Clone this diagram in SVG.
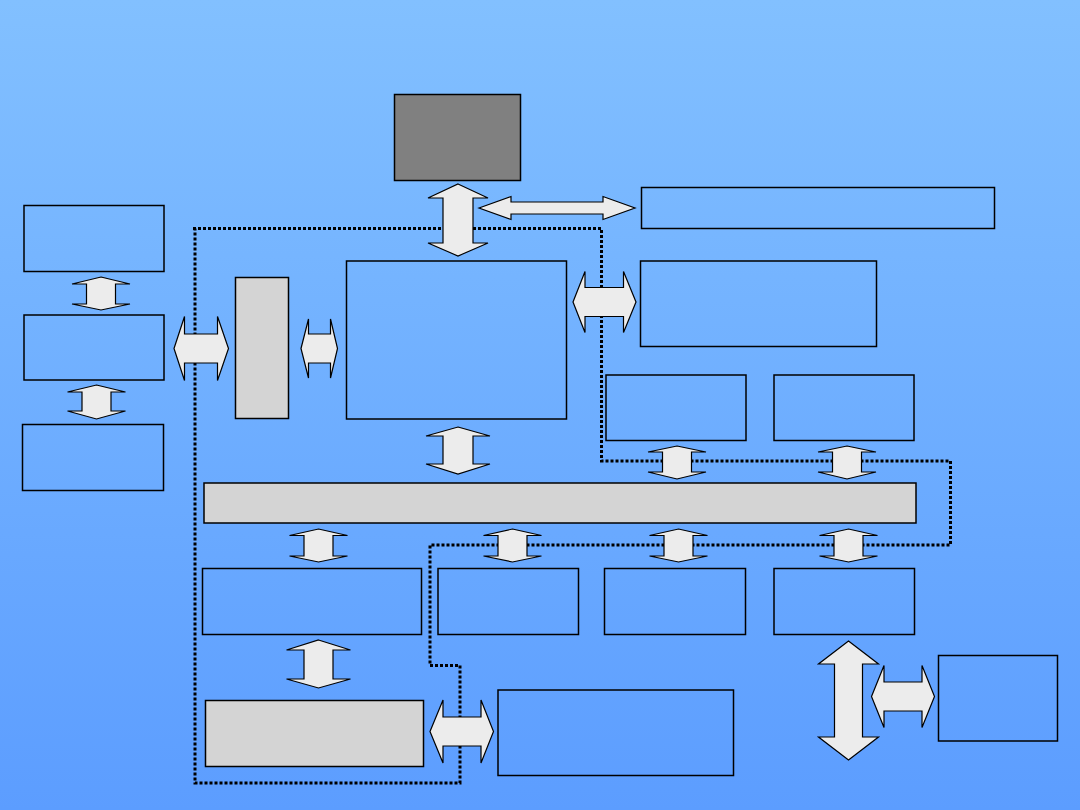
<svg xmlns="http://www.w3.org/2000/svg" width="1080" height="810" viewBox="0 0 1080 810">
<defs>
<linearGradient id="bg" x1="0" y1="0" x2="0" y2="1">
<stop offset="0" stop-color="#82C0FF"/>
<stop offset="1" stop-color="#5C9DFF"/>
</linearGradient>
</defs>
<style>
.box{fill:none;stroke:#000;stroke-width:1.5}
.gray{fill:#d4d4d4;stroke:#000;stroke-width:1.5}
.dark{fill:#808080;stroke:#000;stroke-width:1.5}
.arr{fill:#ececec;stroke:#000;stroke-width:1.2;stroke-linejoin:miter}
.dot{fill:none;stroke:#000;stroke-width:3;stroke-dasharray:3 2}
</style>
<rect x="0" y="0" width="1080" height="810" fill="url(#bg)"/>
<g id="connectors">
<path class="dot" d="M193,228.5 H601.5 V461 H950.5 V545 H430 V665.5 H460 V783 H195 V228.5"/>
<path class="arr" d="M458,184 L488,198 L473,198 L473,243 L488,243 L458,256 L428,243 L443,243 L443,198 L428,198 Z"/>
<path class="arr" d="M458,427 L490,436 L473,436 L473,464 L490,464 L458,474 L426,464 L443,464 L443,436 L426,436 Z"/>
<path class="arr" d="M101,277 L130,284 L115.5,284 L115.5,304 L130,304 L101,310 L72,304 L86.5,304 L86.5,284 L72,284 Z"/>
<path class="arr" d="M96.5,385 L125.5,392 L111,392 L111,411 L125.5,411 L96.5,419 L67.5,411 L82,411 L82,392 L67.5,392 Z"/>
<path class="arr" d="M677,446 L706,452 L691.5,452 L691.5,472 L706,472 L677,479 L648,472 L662.5,472 L662.5,452 L648,452 Z"/>
<path class="arr" d="M847,446 L876,452 L861.5,452 L861.5,472 L876,472 L847,479 L818,472 L832.5,472 L832.5,452 L818,452 Z"/>
<path class="arr" d="M318.5,529 L347.5,535.5 L333,535.5 L333,556 L347.5,556 L318.5,562 L289.5,556 L304,556 L304,535.5 L289.5,535.5 Z"/>
<path class="arr" d="M512.5,529 L541.5,535.5 L527,535.5 L527,556 L541.5,556 L512.5,562 L483.5,556 L498,556 L498,535.5 L483.5,535.5 Z"/>
<path class="arr" d="M678.5,529 L707.5,535.5 L693,535.5 L693,556 L707.5,556 L678.5,562 L649.5,556 L664,556 L664,535.5 L649.5,535.5 Z"/>
<path class="arr" d="M848.5,529 L877.5,535.5 L863,535.5 L863,556 L877.5,556 L848.5,562 L819.5,556 L834,556 L834,535.5 L819.5,535.5 Z"/>
<path class="arr" d="M318.5,640 L350.5,650 L333,650 L333,679 L350.5,679 L318.5,688 L286.5,679 L304,679 L304,650 L286.5,650 Z"/>
<path class="arr" d="M848.5,641 L878.5,664 L862.5,664 L862.5,737 L878.5,737 L848.5,760 L818.5,737 L834.5,737 L834.5,664 L818.5,664 Z"/>
<path class="arr" d="M479,208 L511,196.5 L511,202 L603,202 L603,196.5 L635,208 L603,219.5 L603,214 L511,214 L511,219.5 Z"/>
<path class="arr" d="M174,348.5 L184.5,316.5 L184.5,334 L217.5,334 L217.5,316.5 L228.5,348.5 L217.5,380.5 L217.5,363 L184.5,363 L184.5,380.5 Z"/>
<path class="arr" d="M301,348.5 L308.5,319 L308.5,334 L330.5,334 L330.5,319 L337.5,348.5 L330.5,378 L330.5,363 L308.5,363 L308.5,378 Z"/>
<path class="arr" d="M573,302 L585,271.5 L585,287.5 L623.5,287.5 L623.5,271.5 L636,302 L623.5,332.5 L623.5,316.5 L585,316.5 L585,332.5 Z"/>
<path class="arr" d="M430,731.5 L443,700 L443,717 L481,717 L481,700 L493.5,731.5 L481,763 L481,746 L443,746 L443,763 Z"/>
<path class="arr" d="M871.5,696.5 L884,665.5 L884,682 L922,682 L922,665.5 L934.5,696.5 L922,727.5 L922,711 L884,711 L884,727.5 Z"/>
</g>
<g id="n-top-gray"><rect class="dark" x="394.5" y="94.5" width="126" height="86"/></g>
<g id="n-top-right"><rect class="box" x="641.5" y="187.5" width="353" height="41"/></g>
<g id="n-left-1"><rect class="box" x="24" y="205.5" width="140" height="66"/></g>
<g id="n-left-2"><rect class="box" x="24" y="315" width="140" height="65"/></g>
<g id="n-left-3"><rect class="box" x="22.5" y="424.5" width="141" height="66"/></g>
<g id="n-tall-gray"><rect class="gray" x="235.5" y="277.5" width="53" height="141"/></g>
<g id="n-center"><rect class="box" x="346.5" y="261" width="220" height="158"/></g>
<g id="n-right"><rect class="box" x="640.5" y="261" width="236" height="85.5"/></g>
<g id="n-small-1"><rect class="box" x="606" y="375" width="140" height="65.5"/></g>
<g id="n-small-2"><rect class="box" x="774" y="375" width="140" height="65.5"/></g>
<g id="n-bus"><rect class="gray" x="204" y="483" width="712" height="40"/></g>
<g id="n-bottom-1"><rect class="box" x="202.5" y="568.5" width="219" height="66"/></g>
<g id="n-bottom-2"><rect class="box" x="438" y="568.5" width="140.5" height="66"/></g>
<g id="n-bottom-3"><rect class="box" x="604.5" y="568.5" width="141" height="66"/></g>
<g id="n-bottom-4"><rect class="box" x="774" y="568.5" width="140.5" height="66"/></g>
<g id="n-bottom-gray"><rect class="gray" x="205.5" y="700.5" width="218" height="66"/></g>
<g id="n-bottom-box"><rect class="box" x="498" y="690" width="235.5" height="85.5"/></g>
<g id="n-right-small"><rect class="box" x="938.5" y="655.5" width="119" height="85.5"/></g>
</svg>
